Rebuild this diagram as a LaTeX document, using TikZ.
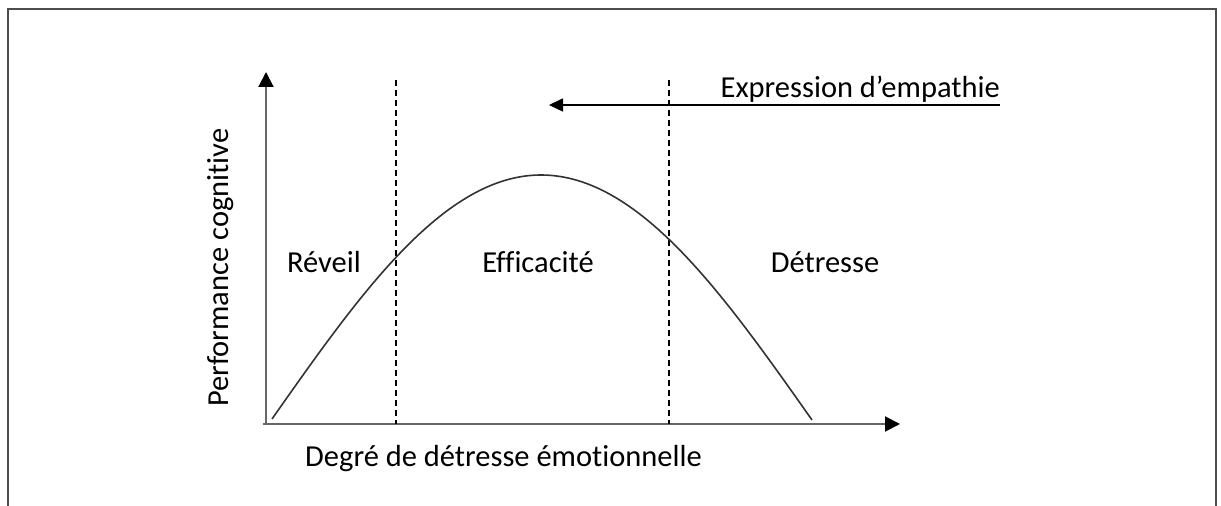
\documentclass[tikz,border=0pt]{standalone}
\usepackage{fontspec}
\setmainfont{Carlito}[Ligatures = NoCommon]
\usetikzlibrary{arrows.meta}

\begin{document}
\begin{tikzpicture}[
    x = 1pt, y = 1pt,
    frame/.style = {draw = black!70, line width = 1.6pt},
    axis/.style = {draw = black!60, line width = 2pt, -{Triangle[length = 15pt, width = 15pt, color = black]}},
    zone/.style = {draw = black, line width = 1.2pt, dash pattern = on 6pt off 4pt},
    curve/.style = {draw = black!80, line width = 1.6pt},
    lbl/.style = {font = \fontsize{30.5}{36}\selectfont, inner sep = 0pt},
    ]
    \useasboundingbox (0, 0) rectangle (1221, 506);
    \draw[frame] (8, 0) -- (8, 497) -- (1216, 497) -- (1216, 0);

    \coordinate (O) at (266, 82);
    \coordinate (Ytop) at (266, 434);
    \coordinate (Xend) at (900, 82);
    \draw[axis] (O) -- (Ytop);
    \draw[axis] ([xshift = -3pt]O) -- (Xend);

    \coordinate (D1a) at (396, 426);
    \coordinate (D1b) at (396, 82);
    \coordinate (D2a) at (669, 426);
    \coordinate (D2b) at (669, 82);
    \draw[zone] (D1a) -- (D1b);
    \draw[zone] (D2a) -- (D2b);

    \coordinate (C0) at (272, 87);
    \coordinate (Ctop) at (541, 331);
    \coordinate (C1) at (812, 86);
    \draw[curve] (C0) sin (Ctop) cos (C1);

    \coordinate (Efrom) at (1000, 401);
    \coordinate (Eto) at (549, 401);
    \draw[draw = black, line width = 1.6pt, -{Triangle[length = 14pt, width = 13pt]}] (Efrom) -- (Eto);
    \node[lbl, anchor = base east] (empathie) at (1000, 408) {Expression d’empathie};

    \node[lbl, anchor = base] (reveil) at (324, 233) {Réveil};
    \node[lbl, anchor = base] (efficacite) at (538, 233) {Efficacité};
    \node[lbl, anchor = base] (detresse) at (825, 233) {Détresse};
    \node[lbl, rotate = 90, anchor = base west] (perf) at (228, 99) {Performance cognitive};
    \node[lbl, anchor = base west] (degre) at (305, 39) {Degré de détresse émotionnelle};
\end{tikzpicture}
\end{document}
